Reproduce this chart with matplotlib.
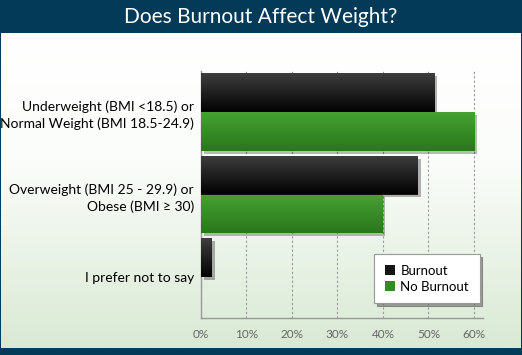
import numpy as np
import matplotlib.pyplot as plt
from matplotlib import patheffects as pe
from matplotlib.colors import LinearSegmentedColormap
from matplotlib.patches import Patch

# data
categories = ["Underweight (BMI <18.5) or\nNormal Weight (BMI 18.5-24.9)",
              "Overweight (BMI 25 - 29.9) or\nObese (BMI \u2265 30)",
              "I prefer not to say"]
burnout = [51.3, 47.7, 2.4]
no_burnout = [60.1, 39.9, 0.0]
series_names = ["Burnout", "No Burnout"]
xticks = [0, 10, 20, 30, 40, 50, 60]
xticklabels = ["0%", "10%", "20%", "30%", "40%", "50%", "60%"]
title = "Does Burnout Affect Weight?"

plt.rcParams['font.family'] = ['Lato', 'DejaVu Sans']

W, H = 522, 355
fig = plt.figure(figsize=(W / 100, H / 100), dpi=100)
fig.patch.set_facecolor('#023a58')

# light background panel with a soft green gradient
bg = fig.add_axes([1 / W, 7 / H, 520 / W, (H - 33 - 7) / H])
bg.set_axis_off()
bg_cmap = LinearSegmentedColormap.from_list('bg', [(0, '#ffffff'), (0.4, '#fbfdfa'), (1, '#d9e9d4')])
bg.imshow(np.linspace(0, 1, 256).reshape(-1, 1), cmap=bg_cmap, aspect='auto', extent=[0, 1, 1, 0])

# title bar
fig.text(0.5, 1 - 17 / H, title, color='white', fontsize=15, ha='center', va='center')

ax = fig.add_axes([201 / W, 1 - 318 / H, (483 - 201) / W, (318 - 71) / H])
ax.patch.set_alpha(0)

h = 0.47
y = np.arange(len(categories))
b1 = ax.barh(y - h / 2, burnout, height=h, color='#151515', zorder=3)
b2 = ax.barh(y + h / 2, no_burnout, height=h, color='#36882a', zorder=3)

black_cmap = LinearSegmentedColormap.from_list('blk', ['#3e3e3e', '#020202'])
green_cmap = LinearSegmentedColormap.from_list('grn', ['#46a233', '#2b761d'])
grad = np.linspace(0, 1, 64).reshape(-1, 1)
for bars, cmap in [(b1, black_cmap), (b2, green_cmap)]:
    for bar in bars:
        bar.set_path_effects([pe.SimplePatchShadow(offset=(2, -2), alpha=0.3), pe.Normal()])
        if bar.get_width() <= 0:
            continue
        x0, y0 = bar.get_x(), bar.get_y()
        im = ax.imshow(grad, cmap=cmap, aspect='auto', zorder=4,
                       extent=[x0, x0 + bar.get_width(), y0 + bar.get_height(), y0])
        im.set_clip_path(bar)

ax.set_xlim(1.44, 62)
ax.set_ylim(2.5, -0.5)

ax.set_yticks(y)
ax.set_yticklabels(categories, fontsize=10, linespacing=1.45)
ax.set_xticks(xticks)
ax.set_xticklabels(xticklabels, fontsize=8.5, color='#666666')
ax.tick_params(length=0)
ax.tick_params(axis='x', pad=8)
ax.tick_params(axis='y', pad=5)

ax.grid(axis='x', color='#9a9a9a', linestyle=(0, (2, 2)), linewidth=0.8, zorder=1)
for s in ['top', 'right']:
    ax.spines[s].set_visible(False)
for s in ['left', 'bottom']:
    ax.spines[s].set_color('#999999')
    ax.spines[s].set_linewidth(1)

handles = [Patch(facecolor='#151515'), Patch(facecolor='#36882a')]
leg = fig.legend(handles, series_names, loc='upper left',
                 bbox_to_anchor=(374 / W, 1 - 254 / H), fontsize=9.5,
                 frameon=True, fancybox=False, shadow=True, framealpha=1,
                 edgecolor='#999999', handlelength=0.8, handleheight=0.8,
                 handletextpad=0.4, borderpad=0.8, borderaxespad=0, labelspacing=0.3)
leg.get_frame().set_linewidth(0.8)

fig.savefig('out.png', dpi=100, facecolor=fig.get_facecolor())
